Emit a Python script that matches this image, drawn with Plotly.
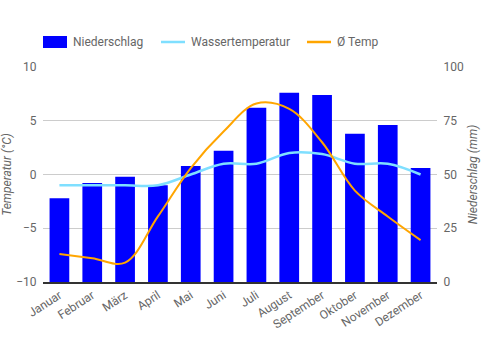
import plotly.graph_objects as go

months = ["Januar", "Februar", "März", "April", "Mai", "Juni", "Juli",
          "August", "September", "Oktober", "November", "Dezember"]
niederschlag = [39, 46, 49, 45, 54, 61, 81, 88, 87, 69, 73, 53]
wassertemp = [-1, -1, -1, -1, 0, 1, 1, 2, 1.9, 1, 1, 0]
temp = [-7.4, -7.8, -8.2, -3.9, 0.6, 4.0, 6.6, 6.1, 3.0, -1.5, -3.9, -6.1]

W, H = 481, 350
L, R, T, B = 43, 44, 67, 68
PW, PH = W - L - R, H - T - B

def px(x):
    return (x - L) / PW

def py(y):
    return (H - B - y) / PH

fig = go.Figure()
fig.add_trace(go.Bar(x=months, y=niederschlag, name="Niederschlag",
                     marker=dict(color="#0000ff", line=dict(width=0)),
                     width=0.6, yaxis="y"))
fig.add_trace(go.Scatter(x=months, y=wassertemp, name="Wassertemperatur",
                         mode="lines", line=dict(color="#7fdfff", width=2.5, shape="spline", smoothing=1),
                         yaxis="y2"))
fig.add_trace(go.Scatter(x=months, y=temp, name="Ø Temp",
                         mode="lines", line=dict(color="#ffa500", width=2, shape="spline", smoothing=1),
                         yaxis="y2"))

# manual legend (Chart.js style)
legend_items = [
    ("Niederschlag", "rect", "#0000ff", 43),
    ("Wassertemperatur", "line", "#7fdfff", 161),
    ("Ø Temp", "line", "#ffa500", 307),
]
shapes = []
annotations = []
for name, kind, color, x0 in legend_items:
    if kind == "rect":
        shapes.append(dict(type="rect", xref="paper", yref="paper",
                           x0=px(x0), x1=px(x0 + 24), y0=py(48), y1=py(36),
                           fillcolor=color, line=dict(width=0)))
    else:
        shapes.append(dict(type="line", xref="paper", yref="paper",
                           x0=px(x0), x1=px(x0 + 24), y0=py(42), y1=py(42),
                           line=dict(color=color, width=2.5)))
    annotations.append(dict(text=name, xref="paper", yref="paper", x=px(x0 + 28), y=py(42),
                            xanchor="left", yanchor="middle", showarrow=False,
                            font=dict(family="Roboto, Arial, sans-serif", size=12, color="#666")))

tf = dict(family="Roboto, Arial, sans-serif", size=12, color="#666666")

fig.update_layout(
    width=W, height=H,
    margin=dict(l=L, r=R, t=T, b=B),
    paper_bgcolor="white", plot_bgcolor="white",
    font=tf,
    showlegend=False,
    shapes=shapes,
    annotations=annotations,
    xaxis=dict(showgrid=False, ticks="", tickangle=-33, showline=True, automargin=False,
               linecolor="#333", linewidth=1.5, tickfont=tf),
    yaxis=dict(side="right", range=[0, 100], dtick=25, showgrid=True, gridcolor="#cccccc",
               gridwidth=1, zeroline=False, ticks="outside", ticklen=3, tickcolor="rgba(0,0,0,0)",
               tickfont=tf, automargin=False,
               title=dict(text="<i>Niederschlag (mm)</i>", font=tf, standoff=5)),
    yaxis2=dict(side="left", overlaying="y", range=[-10, 10], dtick=5, showgrid=False,
                zeroline=False, ticks="outside", ticklen=3, tickcolor="rgba(0,0,0,0)",
                tickfont=tf, automargin=False,
                title=dict(text="<i>Temperatur (°C)</i>", font=tf, standoff=3)),
)

fig.write_html("out.html")
